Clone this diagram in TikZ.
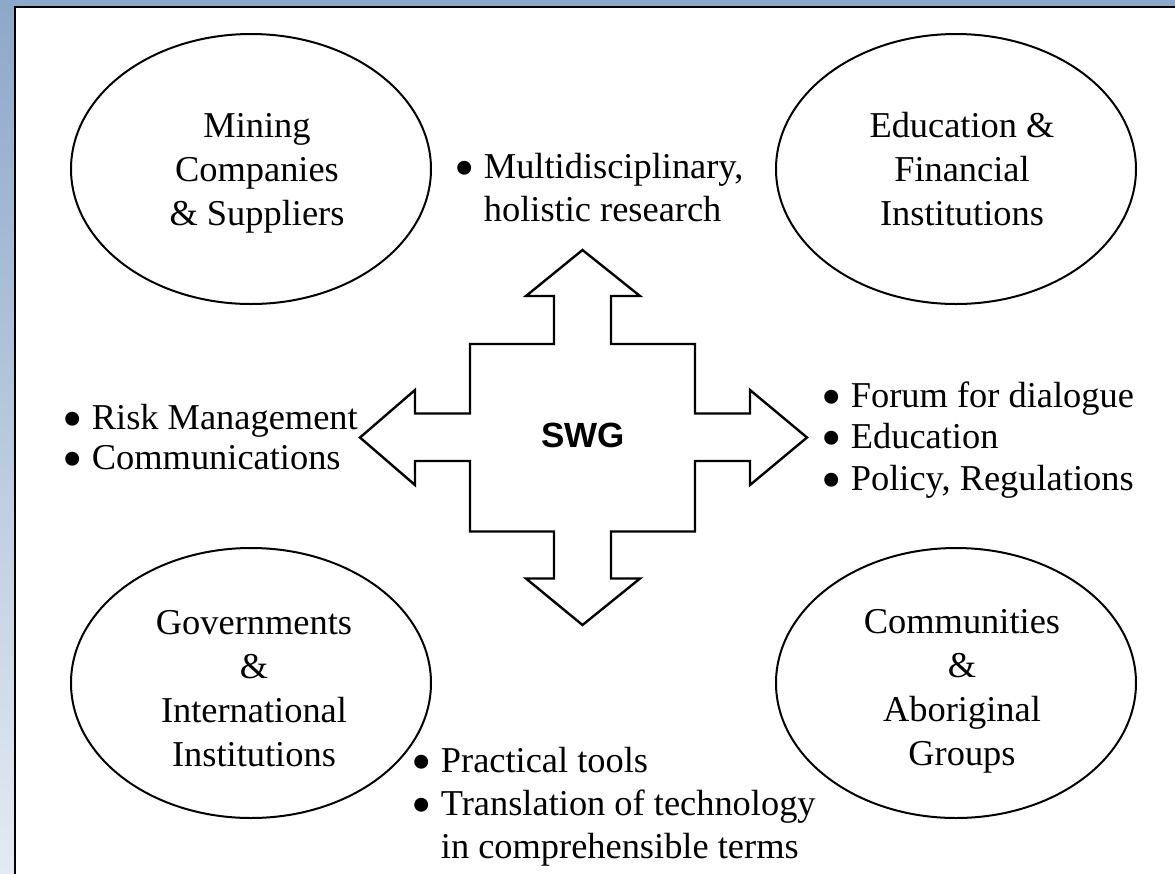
\documentclass[tikz,border=0pt]{standalone}
\usepackage{fontspec}
\setmainfont{Liberation Serif}
\newfontfamily\swgfont{Liberation Sans}
\usetikzlibrary{shapes.geometric}

\newcommand{\bltbox}{\raisebox{-0.25em}[0.55em][0pt]{\scalebox{1.6}{\textbullet}}}
\newcommand{\blt}{\bltbox\ }
\newcommand{\bltgap}{\phantom{\bltbox}\ }

\begin{document}
\begin{tikzpicture}[x=0.5pt, y=-0.5pt,
		stakeholder/.style={draw, ellipse, line width=1pt, minimum width=180pt, minimum height=135pt, inner sep=0pt},
		txt/.style={inner sep=0pt, anchor=base west, font=\fontsize{18.2}{21.5}\selectfont},
		ctxt/.style={txt, anchor=base, font=\fontsize{18.2}{22}\selectfont}]
		%%%%% START %%%%%
		
		\useasboundingbox (0, 0) rectangle (1175, 874);
		\shade[top color={rgb,255:red,141;green,168;blue,200}, bottom color={rgb,255:red,228;green,234;blue,242}] (0, 0) rectangle (1175, 874);
		\fill[white] (15, 7) rectangle (1175, 874);
		\draw[line width=1.3pt] (15, 874) -- (15, 7) -- (1175, 7);
		
		% the four parties
		\node[stakeholder] (mining) at (251, 169) {};
		\node[stakeholder] (finance) at (956, 169) {};
		\node[stakeholder] (govt) at (251, 683) {};
		\node[stakeholder] (community) at (956, 683) {};
		
		\node[ctxt] (miningtxt) at (257, 137) {\begin{tabular}[t]{@{}c@{}}Mining\\Companies\\\& Suppliers\end{tabular}};
		\node[ctxt] (financetxt) at (962, 137) {\begin{tabular}[t]{@{}c@{}}Education \&\\Financial\\Institutions\end{tabular}};
		\node[ctxt] (govttxt) at (254, 634) {\begin{tabular}[t]{@{}c@{}}Governments\\\&\\International\\Institutions\end{tabular}};
		\node[ctxt] (communitytxt) at (962, 633) {\begin{tabular}[t]{@{}c@{}}Communities\\\&\\Aboriginal\\Groups\end{tabular}};
		
		% four-way arrow
		\draw[line width=1.2pt, line join=miter] (582.5, 250) -- (640, 296) -- (611, 296) -- (611, 344) -- (695, 344)
			-- (695, 413.5) -- (750, 413.5) -- (750, 390) -- (807, 437.5) -- (750, 485) -- (750, 461) -- (695, 461)
			-- (695, 531.5) -- (611, 531.5) -- (611, 578.5) -- (640, 578.5) -- (582.5, 625) -- (526, 578.5) -- (554, 578.5)
			-- (554, 531.5) -- (470, 531.5) -- (470, 461) -- (415, 461) -- (415, 485) -- (360, 437.5) -- (415, 390)
			-- (415, 413.5) -- (470, 413.5) -- (470, 344) -- (554, 344) -- (554, 296) -- (526, 296) -- cycle;
		\node[inner sep=0pt, font=\swgfont\bfseries\fontsize{17.5}{20}\selectfont] (swg) at (583, 435) {SWG};
		
		% roles of the group
		\node[txt, font=\fontsize{18.2}{21.8}\selectfont] (research) at (454, 178) {\begin{tabular}[t]{@{}l@{}}\blt Multidisciplinary,\\\bltgap holistic research\end{tabular}};
		\node[txt, font=\fontsize{18.2}{20}\selectfont] (risk) at (62, 429) {\begin{tabular}[t]{@{}l@{}}\blt Risk Management\\\blt Communications\end{tabular}};
		\node[txt, font=\fontsize{18.2}{20.8}\selectfont] (forum) at (821, 407) {\begin{tabular}[t]{@{}l@{}}\blt Forum for dialogue\\\blt Education\\\blt Policy, Regulations\end{tabular}};
		\node[txt] (tools) at (411, 772) {\begin{tabular}[t]{@{}l@{}}\blt Practical tools\\\blt Translation of technology\\\bltgap in comprehensible terms\end{tabular}};
		
		%%%%% END %%%%%
	\end{tikzpicture}
\end{document}
